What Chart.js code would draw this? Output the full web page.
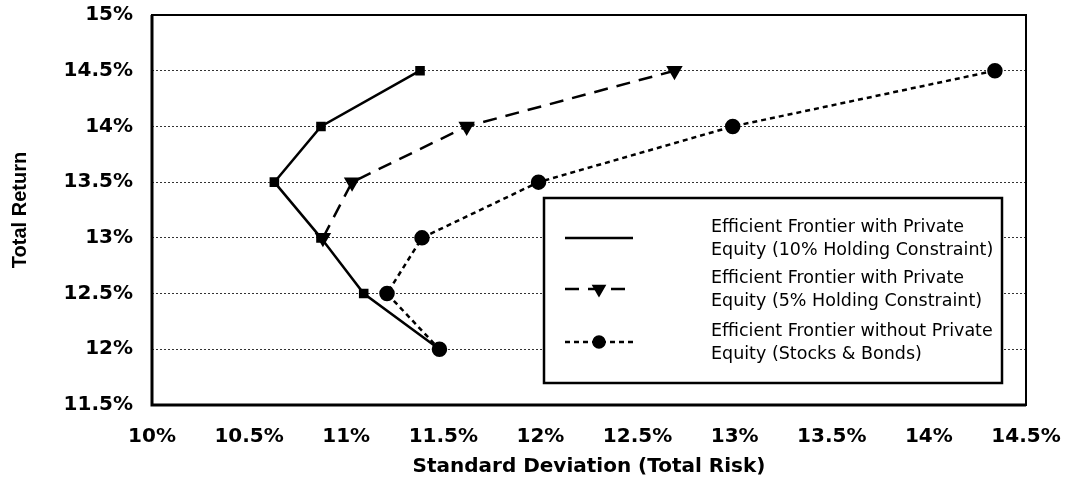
<!DOCTYPE html>
<html>
<head>
<meta charset="utf-8">
<script src="https://cdn.jsdelivr.net/npm/chart.js@4.4.1/dist/chart.umd.min.js"></script>
<style>
  body { margin: 0; background: #fff; }
  #wrap { width: 1065px; height: 487px; }
</style>
</head>
<body>
<div id="wrap"><canvas id="frontier" width="1065" height="487"></canvas></div>
<script>
// valores (risco = desvio padrão em %, retorno total em %)
const returns10 = [14.5, 14, 13.5, 13, 12.5, 12];
const risk10 = [11.38, 10.87, 10.63, 10.87, 11.09, 11.48];

const returns5 = [14.5, 14, 13.5, 13];
const risk5 = [12.69, 11.62, 11.03, 10.88];

const returnsNoPE = [14.5, 14, 13.5, 13, 12.5, 12];
const riskNoPE = [14.34, 12.99, 11.99, 11.39, 11.21, 11.48];

const legendLabels = [
    ['Efficient Frontier with Private', 'Equity (10% Holding Constraint)'],
    ['Efficient Frontier with Private', 'Equity (5% Holding Constraint)'],
    ['Efficient Frontier without Private', 'Equity (Stocks & Bonds)']
];

const xTitle = 'Standard Deviation (Total Risk)';
const yTitle = 'Total Return';

function toPoints(xs, ys) {
    return xs.map((x, i) => ({ x: x, y: ys[i] }));
}

const tickFont = { family: 'DejaVu Sans', weight: 'bold', size: 20 };

// moldura preta em volta da área do gráfico
const frameBox = {
    id: 'frameBox',
    beforeDatasetsDraw(chart) {
        const { ctx, chartArea: a } = chart;
        ctx.save();
        ctx.strokeStyle = '#000';
        ctx.lineWidth = 2;
        ctx.strokeRect(a.left, a.top, a.right - a.left, a.bottom - a.top);
        ctx.lineWidth = 3;
        ctx.beginPath();
        ctx.moveTo(a.left, a.top);
        ctx.lineTo(a.left, a.bottom);
        ctx.lineTo(a.right, a.bottom);
        ctx.stroke();
        ctx.restore();
    }
};

// legenda desenhada à mão (rótulos em duas linhas)
const boxLegend = {
    id: 'boxLegend',
    afterDraw(chart) {
        const ctx = chart.ctx;
        const x0 = 544, y0 = 198, w = 458, h = 185;
        ctx.save();
        ctx.fillStyle = '#fff';
        ctx.fillRect(x0, y0, w, h);
        ctx.strokeStyle = '#000';
        ctx.lineWidth = 2.5;
        ctx.strokeRect(x0, y0, w, h);

        ctx.font = '17.5px "DejaVu Sans", sans-serif';
        ctx.textBaseline = 'middle';
        ctx.textAlign = 'left';
        const rowY = [238, 289, 342];
        chart.data.datasets.forEach((ds, i) => {
            const cy = rowY[i];
            ctx.save();
            ctx.strokeStyle = '#000';
            ctx.lineWidth = ds.borderWidth;
            ctx.setLineDash(ds.borderDash || []);
            ctx.beginPath();
            ctx.moveTo(565, cy);
            ctx.lineTo(633, cy);
            ctx.stroke();
            ctx.restore();
            if (i > 0) {
                Chart.helpers.drawPoint(ctx, {
                    pointStyle: ds.pointStyle,
                    radius: ds.pointRadius - 1,
                    rotation: ds.rotation || 0,
                    borderWidth: 1
                }, 599, cy);
                ctx.fillStyle = '#000';
                ctx.fill();
            }
            ctx.fillStyle = '#000';
            legendLabels[i].forEach((line, k) => {
                ctx.fillText(line, 711, cy - 11 + k * 23);
            });
        });
        ctx.restore();
    }
};

const config = {
    type: 'scatter',
    data: {
        datasets: [
            {
                data: toPoints(risk10, returns10),
                showLine: true,
                borderColor: '#000',
                backgroundColor: '#000',
                borderWidth: 2.5,
                pointStyle: 'rect',
                pointRadius: 5,
                borderDash: []
            },
            {
                data: toPoints(risk5, returns5),
                showLine: true,
                borderColor: '#000',
                backgroundColor: '#000',
                borderWidth: 2.5,
                borderDash: [14, 9],
                pointStyle: 'triangle',
                rotation: 180,
                pointRadius: 7
            },
            {
                data: toPoints(riskNoPE, returnsNoPE),
                showLine: true,
                borderColor: '#000',
                backgroundColor: '#000',
                borderWidth: 2.5,
                borderDash: [5, 4],
                pointStyle: 'circle',
                pointRadius: 6.5
            }
        ]
    },
    options: {
        responsive: false,
        animation: false,
        layout: { padding: { left: 0, right: 39, top: 15, bottom: 0 } },
        plugins: {
            legend: { display: false },
            tooltip: { enabled: false }
        },
        elements: { line: { tension: 0 } },
        scales: {
            x: {
                type: 'linear',
                min: 10,
                max: 14.5,
                afterFit: (axis) => {
                    axis.height = 82;
                    axis.paddingLeft = 0;
                    axis.paddingRight = 0;
                },
                grid: { display: false, drawTicks: false },
                border: { display: false },
                ticks: {
                    stepSize: 0.5,
                    color: '#000',
                    font: tickFont,
                    padding: 20,
                    maxRotation: 0,
                    autoSkip: false,
                    callback: (v) => v + '%'
                },
                title: {
                    display: true,
                    text: xTitle,
                    color: '#000',
                    font: { family: 'DejaVu Sans', weight: 'bold', size: 20 },
                    padding: { top: 0, bottom: 8 }
                }
            },
            y: {
                type: 'linear',
                min: 11.5,
                max: 15,
                afterFit: (axis) => {
                    axis.width = 152;
                    axis.paddingTop = 0;
                    axis.paddingBottom = 0;
                },
                grid: {
                    drawTicks: false,
                    lineWidth: 1,
                    color: (c) => (c.tick && (c.tick.value === 15 || c.tick.value === 11.5)) ? 'rgba(0,0,0,0)' : '#333'
                },
                border: { display: false, dash: [2, 2] },
                ticks: {
                    stepSize: 0.5,
                    color: '#000',
                    font: tickFont,
                    padding: 19,
                    callback: (v) => v + '%'
                },
                title: {
                    display: true,
                    text: yTitle,
                    color: '#000',
                    font: { family: 'Liberation Sans', weight: 'bold', size: 20 },
                    padding: { top: 8, bottom: 0 }
                }
            }
        }
    },
    plugins: [frameBox, boxLegend]
};

document.addEventListener('DOMContentLoaded', function() {
    const ctx = document.getElementById('frontier').getContext('2d');
    new Chart(ctx, config);
});
</script>
</body>
</html>
